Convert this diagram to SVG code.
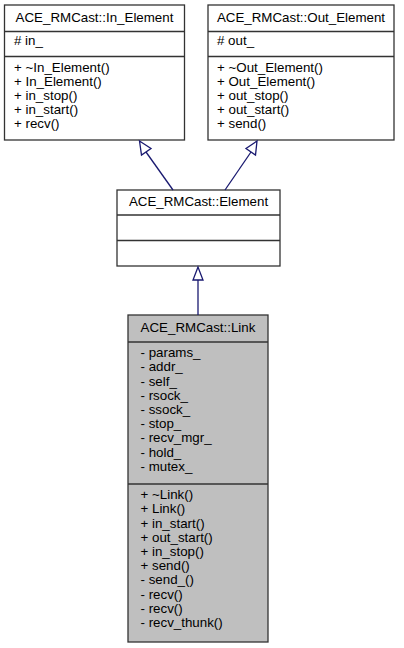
<svg xmlns="http://www.w3.org/2000/svg" width="404" height="648" viewBox="0 0 404 648">
<style>
.box{fill:#ffffff;stroke:#333333;stroke-width:1.3}
.grey{fill:#bfbfbf}
.sep{stroke:#333333;stroke-width:1.3}
text{font-family:"Liberation Sans",Arial,Helvetica,sans-serif;font-size:13.33px;fill:#000000}
.c{text-anchor:middle}
.edge{stroke:#191970;stroke-width:1.3;fill:none}
.head{fill:#ffffff;stroke:#191970;stroke-width:1.3}
</style>
<rect width="404" height="648" fill="#ffffff"/>
<g id="node-in-element">
<rect class="box" x="4.5" y="5" width="180" height="135"/>
<line class="sep" x1="4.5" y1="31.5" x2="184.5" y2="31.5"/>
<line class="sep" x1="4.5" y1="56.5" x2="184.5" y2="56.5"/>
<text class="c" x="94.5" y="22">ACE_RMCast::In_Element</text>
<text x="14" y="45">#&#160;in_</text>
<text x="14" y="72">+ ~In_Element()</text>
<text x="14" y="86">+ In_Element()</text>
<text x="14" y="100">+ in_stop()</text>
<text x="14" y="114">+ in_start()</text>
<text x="14" y="128">+ recv()</text>
</g>
<g id="node-out-element">
<rect class="box" x="208" y="5" width="186" height="135"/>
<line class="sep" x1="208" y1="31.5" x2="394" y2="31.5"/>
<line class="sep" x1="208" y1="56.5" x2="394" y2="56.5"/>
<text class="c" x="301" y="22">ACE_RMCast::Out_Element</text>
<text x="217" y="45">#&#160;out_</text>
<text x="217" y="72">+ ~Out_Element()</text>
<text x="217" y="86">+ Out_Element()</text>
<text x="217" y="100">+ out_stop()</text>
<text x="217" y="114">+ out_start()</text>
<text x="217" y="128">+ send()</text>
</g>
<g id="node-element">
<rect class="box" x="117" y="190" width="163" height="76"/>
<line class="sep" x1="117" y1="215" x2="280" y2="215"/>
<line class="sep" x1="117" y1="240.5" x2="280" y2="240.5"/>
<text class="c" x="198.5" y="206">ACE_RMCast::Element</text>
</g>
<g id="node-link">
<rect class="box grey" x="128" y="315" width="140" height="327"/>
<line class="sep" x1="128" y1="342" x2="268" y2="342"/>
<line class="sep" x1="128" y1="484" x2="268" y2="484"/>
<text class="c" x="198" y="332">ACE_RMCast::Link</text>
<text x="140.5" y="357">- params_</text>
<text x="140.5" y="371">- addr_</text>
<text x="140.5" y="385.5">- self_</text>
<text x="140.5" y="399.5">- rsock_</text>
<text x="140.5" y="414">- ssock_</text>
<text x="140.5" y="428">- stop_</text>
<text x="140.5" y="442">- recv_mgr_</text>
<text x="140.5" y="457">- hold_</text>
<text x="140.5" y="471">- mutex_</text>
<text x="140.5" y="499">+ ~Link()</text>
<text x="140.5" y="513">+ Link()</text>
<text x="140.5" y="527.5">+ in_start()</text>
<text x="140.5" y="542">+ out_start()</text>
<text x="140.5" y="556">+ in_stop()</text>
<text x="140.5" y="570">+ send()</text>
<text x="140.5" y="584">- send_()</text>
<text x="140.5" y="598.5">- recv()</text>
<text x="140.5" y="613">- recv()</text>
<text x="140.5" y="627">- recv_thunk()</text>
</g>
<g id="connectors">
<line class="edge" x1="173" y1="190" x2="146" y2="152"/>
<polygon class="head" points="139.5,141 141.5,155 151,148.5"/>
<line class="edge" x1="225" y1="190" x2="251" y2="152"/>
<polygon class="head" points="257,141 246,148.5 255.5,155"/>
<line class="edge" x1="198" y1="315" x2="198" y2="280"/>
<polygon class="head" points="198,267 193,280 203,280"/>
</g>
</svg>
